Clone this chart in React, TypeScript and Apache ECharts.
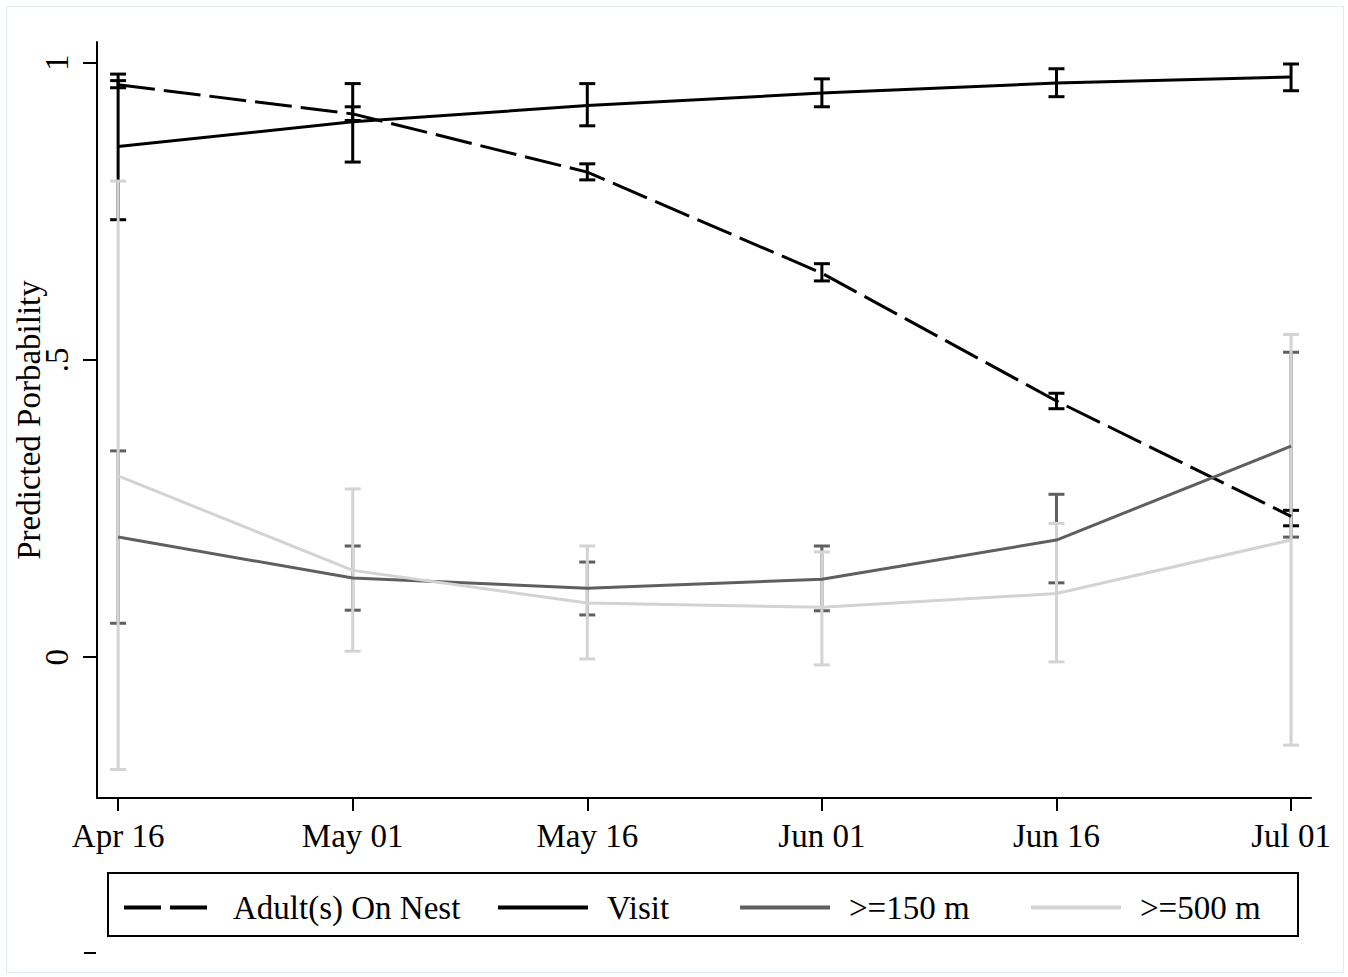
import React, { useEffect, useRef } from "react";
import * as echarts from "echarts";

const categories = ["Apr 16", "May 01", "May 16", "Jun 01", "Jun 16", "Jul 01"];
const yTicks = [0, 0.5, 1];
const yTickLabels = ["0", ".5", "1"];

const adult = [0.963, 0.914, 0.816, 0.646, 0.431, 0.237];
const adultLo = [0.958, 0.903, 0.803, 0.633, 0.418, 0.221];
const adultHi = [0.97, 0.926, 0.83, 0.662, 0.444, 0.247];

const visit = [0.859, 0.901, 0.928, 0.949, 0.966, 0.976];
const visitLo = [0.736, 0.833, 0.894, 0.926, 0.943, 0.953];
const visitHi = [0.981, 0.965, 0.965, 0.973, 0.99, 0.998];

const m150 = [0.202, 0.133, 0.116, 0.131, 0.197, 0.355];
const m150Lo = [0.057, 0.079, 0.071, 0.078, 0.125, 0.202];
const m150Hi = [0.347, 0.187, 0.16, 0.187, 0.274, 0.513];

const m500 = [0.305, 0.146, 0.091, 0.084, 0.107, 0.197];
const m500Lo = [-0.189, 0.01, -0.003, -0.013, -0.008, -0.148];
const m500Hi = [0.801, 0.283, 0.187, 0.177, 0.225, 0.543];

const BLACK = "#000000";
const DARK = "#5f5f5f";
const LIGHT = "#d3d3d3";
const FONT = "Liberation Serif";
const FS = 33;
const DASH = [37, 9];

function ciSeries(name: string, lo: number[], hi: number[], color: string, width: number) {
  return {
    type: "custom",
    name,
    coordinateSystem: "cartesian2d",
    clip: false,
    silent: true,
    data: lo.map((l, i) => [i, l, hi[i]]),
    encode: { x: 0, y: [1, 2] },
    renderItem: (params: any, api: any) => {
      const x = api.value(0);
      const a = api.coord([x, api.value(1)]);
      const b = api.coord([x, api.value(2)]);
      const hw = 8;
      const style = { stroke: color, lineWidth: width, fill: "none" };
      return {
        type: "group",
        children: [
          { type: "line", shape: { x1: a[0], y1: a[1], x2: b[0], y2: b[1] }, style },
          { type: "line", shape: { x1: a[0] - hw, y1: a[1], x2: a[0] + hw, y2: a[1] }, style },
          { type: "line", shape: { x1: b[0] - hw, y1: b[1], x2: b[0] + hw, y2: b[1] }, style },
        ],
      };
    },
  };
}

function lineSeries(name: string, values: number[], color: string, type: any) {
  return {
    type: "line",
    name,
    data: values.map((v, i) => [i, v]),
    symbol: "none",
    showSymbol: false,
    lineStyle: { color, width: 3, type },
    itemStyle: { color },
  };
}

const legendLefts = [122, 496, 738, 1029];
const legendColors = [BLACK, BLACK, DARK, LIGHT];
const legendTypes: any[] = [DASH, "solid", "solid", "solid"];

export default function App() {
  const ref = useRef<HTMLDivElement>(null);
  useEffect(() => {
    document.body.style.margin = "0";
    const chart = echarts.init(ref.current!, null, { renderer: "svg" });
    const names = ["Adult(s) On Nest", "Visit", ">=150 m", ">=500 m"];
    const option: any = {
      animation: false,
      backgroundColor: "#ffffff",
      grid: {
        left: 97,
        right: 37,
        top: 42,
        bottom: 179,
        containLabel: false,
        outerBoundsMode: "none",
      },
      xAxis: {
        type: "value",
        min: -0.09,
        max: 5.085,
        splitLine: { show: false },
        axisLine: { show: true, onZero: false, lineStyle: { color: BLACK, width: 2 } },
        axisTick: { show: true, length: 13, lineStyle: { color: BLACK, width: 2 }, customValues: categories.map((_, i) => i) },
        axisLabel: {
          customValues: categories.map((_, i) => i),
          formatter: (v: number) => categories[Math.round(v)] ?? "",
          color: BLACK,
          fontFamily: FONT,
          fontSize: FS,
          margin: 21,
        },
      },
      yAxis: {
        type: "value",
        min: -0.237,
        max: 1.035,
        name: "Predicted Porbability",
        nameLocation: "middle",
        nameGap: 52,
        nameRotate: 90,
        nameMoveOverlap: false,
        nameTextStyle: { color: BLACK, fontFamily: FONT, fontSize: FS },
        splitLine: { show: false },
        axisLine: { show: true, onZero: false, lineStyle: { color: BLACK, width: 2 } },
        axisTick: { show: true, length: 14, lineStyle: { color: BLACK, width: 2 }, customValues: yTicks },
        axisLabel: {
          customValues: yTicks,
          formatter: (v: number) => {
            const idx = yTicks.findIndex((t) => Math.abs(t - v) < 1e-6);
            return idx >= 0 ? yTickLabels[idx] : "";
          },
          rotate: 90,
          color: BLACK,
          fontFamily: FONT,
          fontSize: FS,
          margin: 24,
        },
      },
      legend: names.map((n, i) => ({
        show: true,
        data: [n],
        left: legendLefts[i],
        top: 891,
        padding: 0,
        itemWidth: 90,
        itemHeight: 14,
        selectedMode: false,
        itemStyle: { color: "rgba(0,0,0,0)", borderWidth: 0, opacity: 0 },
        lineStyle: { color: legendColors[i], width: 4, type: legendTypes[i] },
        textStyle: { color: BLACK, fontFamily: FONT, fontSize: FS, padding: [0, 0, 0, 14] },
      })),
      graphic: [
        {
          type: "rect",
          shape: { x: 6.5, y: 6.5, width: 1337, height: 966 },
          style: { fill: "none", stroke: "#e3eaef", lineWidth: 1 },
          silent: true,
        },
        {
          type: "rect",
          shape: { x: 108, y: 873, width: 1190, height: 63 },
          style: { fill: "none", stroke: BLACK, lineWidth: 2 },
          silent: true,
        },
        {
          type: "line",
          shape: { x1: 84, y1: 953, x2: 96, y2: 953 },
          style: { stroke: BLACK, lineWidth: 2 },
          silent: true,
        },
      ],
      series: [
        ciSeries("Adult CI", adultLo, adultHi, BLACK, 3),
        ciSeries("Visit CI", visitLo, visitHi, BLACK, 3),
        ciSeries("150 CI", m150Lo, m150Hi, DARK, 3),
        ciSeries("500 CI", m500Lo, m500Hi, LIGHT, 3),
        lineSeries(names[0], adult, BLACK, DASH),
        lineSeries(names[1], visit, BLACK, "solid"),
        lineSeries(names[2], m150, DARK, "solid"),
        lineSeries(names[3], m500, LIGHT, "solid"),
      ],
    };
    chart.setOption(option);
    return () => chart.dispose();
  }, []);
  return <div ref={ref} style={{ width: 1348, height: 977 }} />;
}
